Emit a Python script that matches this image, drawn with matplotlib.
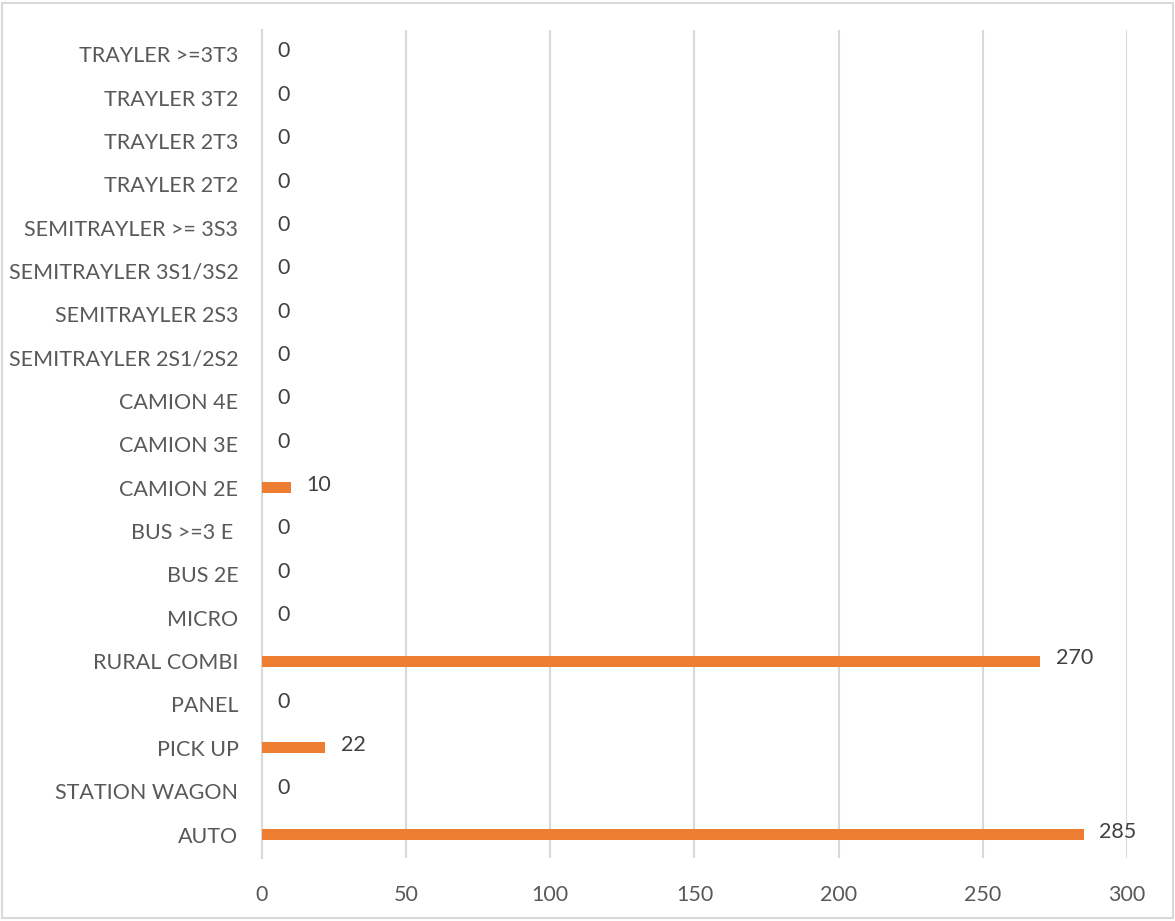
import matplotlib.pyplot as plt
from matplotlib.patches import Rectangle

plt.rc('font', family='Lato')
plt.rcParams['font.size'] = 15

categories = ["AUTO", "STATION WAGON", "PICK UP", "PANEL", "RURAL COMBI",
              "MICRO", "BUS 2E", "BUS >=3 E ", "CAMION 2E", "CAMION 3E",
              "CAMION 4E", "SEMITRAYLER 2S1/2S2", "SEMITRAYLER 2S3",
              "SEMITRAYLER 3S1/3S2", "SEMITRAYLER >= 3S3", "TRAYLER 2T2",
              "TRAYLER 2T3", "TRAYLER 3T2", "TRAYLER >=3T3"]
counts = [285, 0, 22, 0, 270, 0, 0, 0, 10, 0, 0, 0, 0, 0, 0, 0, 0, 0, 0]
x_ticks = [0, 50, 100, 150, 200, 250, 300]

text_color = '#595959'
grid_color = '#d9d9d9'
bar_color = '#ed7d31'

fig = plt.figure(figsize=(11.75, 9.21), dpi=100)
ax = fig.add_axes([0.223, 0.068, 0.736, 0.899])

pos = list(range(len(categories)))
ax.barh(pos, counts, height=0.25, color=bar_color, zorder=3)

# value labels just past the end of each bar
for p, v in zip(pos, counts):
    ax.annotate(str(v), xy=(v, p), xytext=(11, 2), textcoords='offset points',
                ha='left', va='center', color='#404040', fontsize=15.5)

ax.set_xlim(0, 300)
ax.set_ylim(-0.55, len(categories) - 0.45)
ax.set_xticks(x_ticks)
ax.set_yticks(pos)
ax.set_yticklabels(categories)
ax.tick_params(length=0, colors=text_color, labelsize=15.5)
ax.tick_params(axis='x', pad=19)
ax.tick_params(axis='y', pad=17)
ax.xaxis.grid(True, color=grid_color, linewidth=1.5, zorder=0)
for side in ['top', 'right', 'bottom']:
    ax.spines[side].set_visible(False)
ax.spines['left'].set_color(grid_color)
ax.spines['left'].set_linewidth(1.5)

# light frame around the whole chart
fig.patches.append(Rectangle((0.002, 0.003), 0.996, 0.994, transform=fig.transFigure,
                             fill=False, edgecolor=grid_color, linewidth=1.5))

fig.savefig('out.png', dpi=100)
